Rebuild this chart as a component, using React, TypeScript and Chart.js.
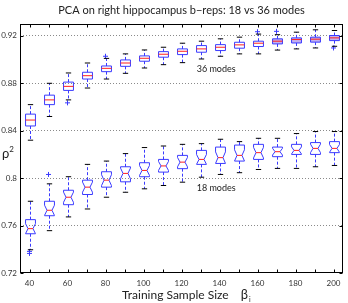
import React, { useEffect, useRef } from "react";
import { Chart, registerables } from "chart.js";

Chart.register(...registerables);

// ---------- data ----------
const sampleSizes = [40, 50, 60, 70, 80, 90, 100, 110, 120, 130, 140, 150, 160, 170, 180, 190, 200];
const xTickLabels = [40, 60, 80, 100, 120, 140, 160, 180, 200];
const yTickValues = [0.72, 0.76, 0.8, 0.84, 0.88, 0.92];
const yTickLabels = ["0.72", "0.76", "0.8", "0.84", "0.88", "0.92"];

// 36 modes
const m36Low = [0.832, 0.852, 0.866, 0.876, 0.8836, 0.8884, 0.8929, 0.8957, 0.8974, 0.9005, 0.9028, 0.9048, 0.9048, 0.908, 0.909, 0.9098, 0.9112];
const m36Q1 = [0.844, 0.862, 0.874, 0.8836, 0.8898, 0.8943, 0.8986, 0.902, 0.9042, 0.9062, 0.9076, 0.9096, 0.911, 0.9132, 0.914, 0.9147, 0.916];
const m36Median = [0.849, 0.866, 0.8774, 0.8864, 0.8926, 0.8971, 0.9011, 0.9045, 0.907, 0.909, 0.9104, 0.9124, 0.9138, 0.9155, 0.9169, 0.9172, 0.9183];
const m36Q3 = [0.854, 0.87, 0.881, 0.8893, 0.8946, 0.8997, 0.9031, 0.9067, 0.909, 0.9118, 0.9126, 0.9146, 0.9155, 0.9175, 0.9183, 0.9189, 0.9203];
const m36High = [0.862, 0.88, 0.8887, 0.8971, 0.901, 0.9048, 0.9081, 0.9104, 0.9138, 0.9155, 0.9175, 0.9189, 0.9215, 0.921, 0.9231, 0.9251, 0.9245];
const m36Outliers = [[], [], [0.8635], [], [0.9028], [], [], [], [], [], [], [], [0.9235], [0.9238], [], [], [0.9098]];

// 18 modes
const m18Low = [0.7396, 0.7557, 0.7673, 0.774, 0.7839, 0.7881, 0.791, 0.7938, 0.7966, 0.8008, 0.8031, 0.8046, 0.8073, 0.8082, 0.8082, 0.8096, 0.8107];
const m18Q1 = [0.7531, 0.7683, 0.7776, 0.7862, 0.7924, 0.7969, 0.8012, 0.8051, 0.808, 0.8116, 0.8124, 0.8144, 0.8158, 0.8181, 0.82, 0.82, 0.8215];
const m18Median = [0.7574, 0.7729, 0.7839, 0.7924, 0.7983, 0.804, 0.8065, 0.8103, 0.8135, 0.8158, 0.8173, 0.8192, 0.8215, 0.8223, 0.8234, 0.8251, 0.8251];
const m18Q3 = [0.765, 0.7805, 0.7898, 0.7983, 0.8054, 0.8096, 0.813, 0.8158, 0.8192, 0.8234, 0.8262, 0.8279, 0.8285, 0.8262, 0.8285, 0.83, 0.8308];
const m18High = [0.7805, 0.7952, 0.8012, 0.8116, 0.8144, 0.8207, 0.8258, 0.8271, 0.8285, 0.8291, 0.8328, 0.8308, 0.8336, 0.8336, 0.8376, 0.8393, 0.8393];
const m18Outliers = [[0.7382, 0.7365], [0.8031], [], [], [], [], [], [], [], [], [], [], [], [], [], [], []];

const titleText = "PCA on right hippocampus b\u2212reps: 18 vs 36 modes";
const xTitleText = "Training Sample Size";
const label36 = "36 modes";
const label18 = "18 modes";
const label36Pos = { x: 128, y: 0.892 };
const label18Pos = { x: 128, y: 0.7913 };

// ---------- style ----------
const BLUE = "#3a3aff";
const RED = "#ff2020";
const SMALL_BOX_FILL = "rgba(175,150,235,0.75)";
const FILL_FROM = 170; // 36-mode boxes from this size on look shaded in the source
const FONT = "Lato, 'Open Sans', sans-serif";
const BOX_W = 5.2; // data units
const CAP_W = 2.8;
const NOTCH = 0.35;

function drawGroup(ctx: CanvasRenderingContext2D, x: any, y: any,
  lo: number[], q1: number[], med: number[], q3: number[], hi: number[], notched: boolean) {
  sampleSizes.forEach((s, i) => {
    const cx = Math.round(x.getPixelForValue(s)) + 0.5;
    const hw = (x.getPixelForValue(s + BOX_W / 2) - x.getPixelForValue(s - BOX_W / 2)) / 2;
    const cw = (x.getPixelForValue(s + CAP_W / 2) - x.getPixelForValue(s - CAP_W / 2)) / 2;
    const yLo = y.getPixelForValue(lo[i]);
    const yQ1 = y.getPixelForValue(q1[i]);
    const yMed = y.getPixelForValue(med[i]);
    const yQ3 = y.getPixelForValue(q3[i]);
    const yHi = y.getPixelForValue(hi[i]);
    ctx.lineWidth = 1;
    // whiskers
    ctx.strokeStyle = BLUE;
    ctx.setLineDash([3, 2]);
    ctx.beginPath();
    ctx.moveTo(cx, yQ3); ctx.lineTo(cx, yHi);
    ctx.moveTo(cx, yQ1); ctx.lineTo(cx, yLo);
    ctx.stroke();
    ctx.setLineDash([]);
    // caps
    ctx.strokeStyle = "#000";
    ctx.beginPath();
    ctx.moveTo(cx - cw, yHi); ctx.lineTo(cx + cw, yHi);
    ctx.moveTo(cx - cw, yLo); ctx.lineTo(cx + cw, yLo);
    ctx.stroke();
    // box
    ctx.strokeStyle = BLUE;
    ctx.beginPath();
    let mw = hw;
    if (notched) {
      const nh = NOTCH * (q3[i] - q1[i]);
      const yNt = y.getPixelForValue(med[i] + nh);
      const yNb = y.getPixelForValue(med[i] - nh);
      mw = hw * 0.5;
      ctx.moveTo(cx - hw, yQ3);
      ctx.lineTo(cx + hw, yQ3);
      ctx.lineTo(cx + hw, yNt);
      ctx.lineTo(cx + mw, yMed);
      ctx.lineTo(cx + hw, yNb);
      ctx.lineTo(cx + hw, yQ1);
      ctx.lineTo(cx - hw, yQ1);
      ctx.lineTo(cx - hw, yNb);
      ctx.lineTo(cx - mw, yMed);
      ctx.lineTo(cx - hw, yNt);
      ctx.closePath();
    } else {
      ctx.rect(cx - hw, yQ3, 2 * hw, yQ1 - yQ3);
      if (s >= FILL_FROM) {
        ctx.fillStyle = SMALL_BOX_FILL;
        ctx.fill();
      }
    }
    ctx.stroke();
    // median
    ctx.strokeStyle = RED;
    ctx.beginPath();
    ctx.moveTo(cx - mw, yMed); ctx.lineTo(cx + mw, yMed);
    ctx.stroke();
  });
}

const boxPlugin = {
  id: "boxplots",
  afterDatasetsDraw(chart: any) {
    const { ctx, scales, chartArea } = chart;
    const x = scales.x, y = scales.y;
    ctx.save();
    ctx.beginPath();
    ctx.rect(chartArea.left, chartArea.top, chartArea.right - chartArea.left, chartArea.bottom - chartArea.top);
    ctx.clip();
    drawGroup(ctx, x, y, m36Low, m36Q1, m36Median, m36Q3, m36High, false);
    drawGroup(ctx, x, y, m18Low, m18Q1, m18Median, m18Q3, m18High, true);
    ctx.restore();
  },
  afterDraw(chart: any) {
    const { ctx, scales, chartArea } = chart;
    const x = scales.x, y = scales.y;
    const L = chartArea.left + 0.5, R = chartArea.right - 0.5, T = chartArea.top + 0.5, B = chartArea.bottom - 0.5;
    ctx.save();
    ctx.strokeStyle = "#000";
    ctx.lineWidth = 1;
    ctx.strokeRect(L, T, R - L, B - T);
    ctx.beginPath();
    const tl = 3;
    sampleSizes.forEach((s) => {
      const px = Math.round(x.getPixelForValue(s)) + 0.5;
      ctx.moveTo(px, B); ctx.lineTo(px, B - tl);
      ctx.moveTo(px, T); ctx.lineTo(px, T + tl);
    });
    yTickValues.forEach((v) => {
      const py = Math.round(y.getPixelForValue(v)) + 0.5;
      ctx.moveTo(L, py); ctx.lineTo(L + tl, py);
      ctx.moveTo(R, py); ctx.lineTo(R - tl, py);
    });
    ctx.stroke();

    // texts
    ctx.fillStyle = "#222";
    ctx.textBaseline = "alphabetic";
    ctx.textAlign = "center";
    ctx.font = `11px ${FONT}`;
    ctx.fillText(titleText, (chartArea.left + chartArea.right) / 2, 14);

    // annotations
    ctx.textAlign = "left";
    ctx.font = `9px ${FONT}`;
    ctx.fillText(label36, x.getPixelForValue(label36Pos.x), y.getPixelForValue(label36Pos.y) + 3);
    ctx.fillText(label18, x.getPixelForValue(label18Pos.x), y.getPixelForValue(label18Pos.y) + 3);

    // x title
    ctx.textAlign = "left";
    ctx.font = `12px ${FONT}`;
    const xt = 122;
    ctx.fillText(xTitleText, xt, 299);
    const w = ctx.measureText(xTitleText).width;
    ctx.font = `13px ${FONT}`;
    ctx.fillText("\u03b2", xt + w + 12, 299);
    const bw = ctx.measureText("\u03b2").width;
    ctx.font = `7px ${FONT}`;
    ctx.fillText("i", xt + w + 12 + bw + 1, 302);

    // y title
    ctx.font = `13px ${FONT}`;
    ctx.fillText("\u03c1", 2, 158);
    const rw = ctx.measureText("\u03c1").width;
    ctx.font = `8px ${FONT}`;
    ctx.fillText("2", 2 + rw, 152);
    ctx.restore();
  },
};

export default function App() {
  const ref = useRef<HTMLCanvasElement | null>(null);
  useEffect(() => {
    if (!ref.current) return;
    const outlierPoints: { x: number; y: number }[] = [];
    sampleSizes.forEach((s, i) => {
      m36Outliers[i].forEach((v) => outlierPoints.push({ x: s, y: v }));
      m18Outliers[i].forEach((v) => outlierPoints.push({ x: s, y: v }));
    });
    const chart = new Chart(ref.current, {
      type: "scatter",
      data: {
        datasets: [
          {
            label: "outliers",
            data: outlierPoints,
            pointStyle: "cross",
            pointRadius: 2.5,
            borderColor: BLUE,
            borderWidth: 1,
            backgroundColor: BLUE,
          },
        ],
      },
      options: {
        animation: false,
        responsive: false,
        devicePixelRatio: 1,
        layout: { padding: { top: 24, right: 4, left: 0, bottom: 0 } },
        plugins: { legend: { display: false }, tooltip: { enabled: false }, title: { display: false } },
        scales: {
          x: {
            type: "linear",
            min: 35,
            max: 205,
            grid: { display: false, drawTicks: false, tickLength: 0 },
            border: { display: false },
            afterBuildTicks: (scale: any) => {
              scale.ticks = xTickLabels.map((v) => ({ value: v }));
            },
            afterFit: (scale: any) => {
              scale.height = 30;
            },
            ticks: {
              autoSkip: false,
              maxRotation: 0,
              padding: 6,
              color: "#333",
              font: { family: FONT, size: 8 },
              callback: (v: any) => String(v),
            },
          },
          y: {
            type: "linear",
            min: 0.72,
            max: 0.93,
            afterBuildTicks: (scale: any) => {
              scale.ticks = yTickValues.map((v) => ({ value: v }));
            },
            afterFit: (scale: any) => {
              scale.width = 20;
            },
            grid: {
              color: (c: any) => (c.tick && c.tick.value === 0.72 ? "rgba(0,0,0,0)" : "#8a8a8a"),
              lineWidth: 1,
              drawTicks: false,
            },
            border: { display: false, dash: [1, 2] },
            ticks: {
              padding: 3,
              color: "#333",
              font: { family: FONT, size: 8 },
              callback: (v: any) => {
                const idx = yTickValues.findIndex((t) => Math.abs(t - v) < 1e-9);
                return idx >= 0 ? yTickLabels[idx] : "";
              },
            },
          },
        },
      },
      plugins: [boxPlugin],
    });
    return () => chart.destroy();
  }, []);
  return (
    <div style={{ position: "absolute", left: 0, top: 0, width: 348, height: 303, background: "#fff" }}>
      <canvas ref={ref} width={348} height={303} style={{ display: "block" }} />
    </div>
  );
}
